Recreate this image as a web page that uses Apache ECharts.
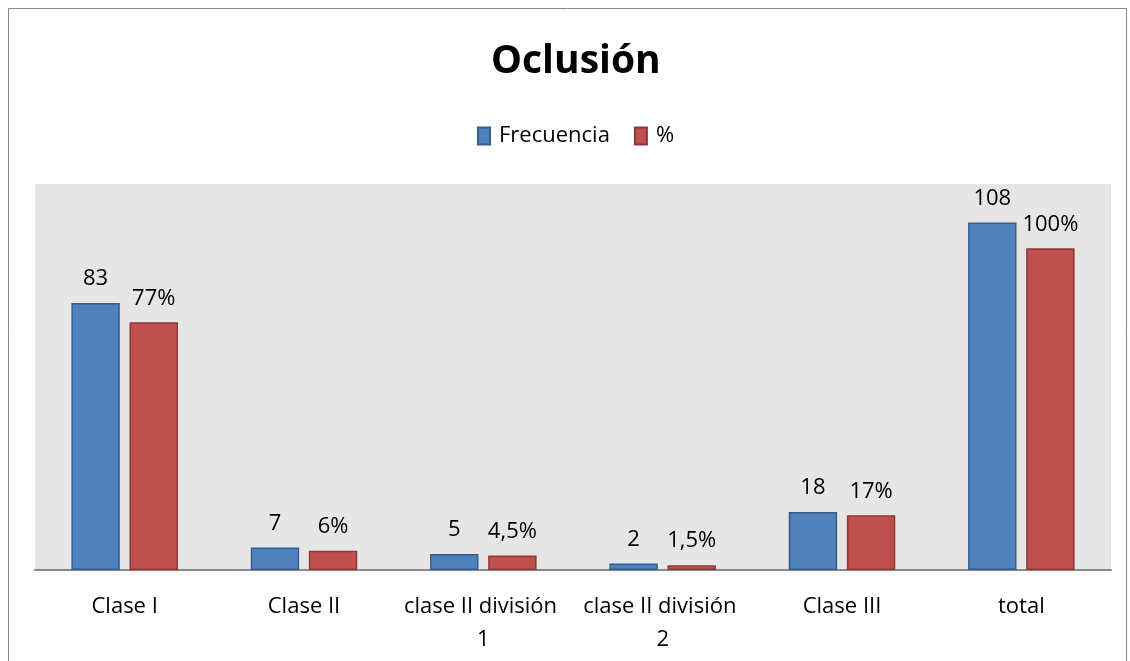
<!DOCTYPE html>
<html>
<head>
<meta charset="utf-8">
<script src="https://cdn.jsdelivr.net/npm/echarts@6/dist/echarts.min.js"></script>
<style>
  html, body { margin: 0; padding: 0; background: #fff; }
  #chart { width: 1130px; height: 661px; }
</style>
</head>
<body>
<div id="chart"></div>
<script>
  // datos
  const categorias = ['Clase I', 'Clase II', 'clase II división 1', 'clase II división 2', 'Clase III', 'total'];
  const frecuencia = [83, 7, 5, 2, 18, 108];
  const porcentaje = [77, 6, 4.5, 1.5, 17, 100];
  const etiquetasPct = ['77%', '6%', '4,5%', '1,5%', '17%', '100%'];

  const fuente = 'Open Sans';
  const chart = echarts.init(document.getElementById('chart'));

  const option = {
    backgroundColor: '#fff',
    animation: false,
    title: {
      text: 'Oclusión',
      left: 486,
      top: 37,
      textStyle: { fontFamily: fuente, fontSize: 39, fontWeight: 'bold', color: '#000' }
    },
    legend: {
      top: 120,
      left: 472,
      icon: 'rect',
      itemWidth: 12,
      itemHeight: 17,
      itemGap: 24,
      textStyle: { fontFamily: fuente, fontSize: 22, color: '#000', padding: [0, 0, 0, 4] },
      data: ['Frecuencia', '%']
    },
    grid: { left: 35, right: 19, top: 184, bottom: 91, backgroundColor: '#e6e6e6', show: true, borderWidth: 0 },
    xAxis: {
      type: 'category',
      data: categorias,
      axisLine: { lineStyle: { color: '#898989', width: 2 } },
      axisTick: { show: false },
      axisLabel: {
        fontFamily: fuente, fontSize: 22, color: '#000', margin: 20,
        width: 168, overflow: 'break', lineHeight: 33, interval: 0
      }
    },
    yAxis: {
      type: 'value',
      min: 0,
      max: 120,
      show: false,
      splitLine: { show: false }
    },
    series: [
      {
        name: 'Frecuencia',
        type: 'bar',
        data: frecuencia,
        barWidth: '27%',
        barGap: '20%',
        itemStyle: { color: '#4f81bd', borderColor: '#385d8a', borderWidth: 1.5 },
        label: {
          show: true, position: 'top', distance: 13,
          fontFamily: fuente, fontSize: 22, color: '#000'
        }
      },
      {
        name: '%',
        type: 'bar',
        data: porcentaje,
        barWidth: '27%',
        itemStyle: { color: '#c0504d', borderColor: '#8c3836', borderWidth: 1.5 },
        label: {
          show: true, position: 'top', distance: 13,
          fontFamily: fuente, fontSize: 22, color: '#000',
          formatter: (p) => etiquetasPct[p.dataIndex]
        }
      }
    ],
    graphic: [
      {
        type: 'rect',
        shape: { x: 8.5, y: 8.5, width: 1118, height: 700 },
        style: { fill: 'none', stroke: '#868686', lineWidth: 1 },
        silent: true
      }
    ]
  };

  chart.setOption(option);
</script>
</body>
</html>
